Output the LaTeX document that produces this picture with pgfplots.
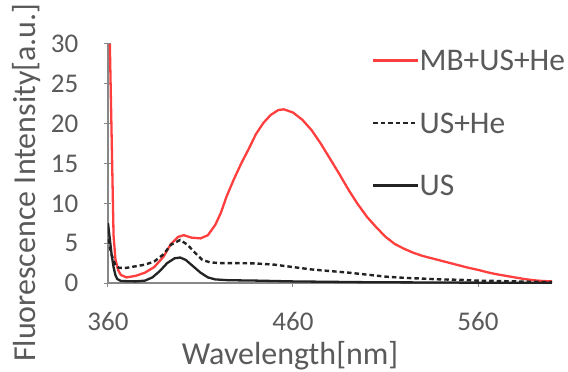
\documentclass[border=0pt]{standalone}
\usepackage{fontspec}
\setmainfont{Carlito}
\usepackage{pgfplots}
\pgfplotsset{compat=1.18}
\definecolor{txtgray}{RGB}{90,90,90}
\definecolor{axgray}{RGB}{135,135,135}
\definecolor{myred}{RGB}{255,62,62}
\definecolor{myblack}{RGB}{35,35,35}
\begin{document}
\begin{tikzpicture}
\path[use as bounding box] (-108pt,-89pt) rectangle (460pt,283pt);
\begin{axis}[
  at={(0,0)}, anchor=south west,
  scale only axis, width=444pt, height=239pt,
  xmin=360, xmax=600, ymin=0, ymax=30,
  axis lines=left, axis line style={draw=axgray, line width=1.5pt, -},
  xtick={360,460,560}, ytick={0,5,...,30},
  tick align=center, major tick length=7pt,
  tick style={draw=axgray, line width=1pt},
  /pgf/number format/assume math mode=true,
  /pgf/number format/1000 sep={},
  ticklabel style={font=\fontsize{27}{32}\selectfont, text=txtgray, inner sep=0pt},
  yticklabel style={anchor=east, xshift=-26pt},
  xticklabel style={anchor=north, yshift=-26pt},
  xlabel={Wavelength[nm]},
  ylabel={Fluorescence Intensity[a.u.]},
  label style={font=\fontsize{32}{38}\selectfont, text=txtgray, inner sep=0pt},
  xlabel style={at={(axis description cs:0.41,-0.343)}, anchor=base},
  ylabel style={at={(axis description cs:-0.183,0.42)}, anchor=center},
  legend style={draw=none, fill=none, inner sep=0pt,
    at={(rel axis cs:0.5946,0.975)}, anchor=north west,
    font=\fontsize{31.5}{38}\selectfont, text=txtgray,
    row sep=42pt,
    nodes={inner sep=0pt, text height=20.5pt, text depth=0pt},
    /tikz/every even column/.append style={column sep=5pt}},
  legend cell align=left,
  legend image code/.code={\draw[#1] (0pt,0pt) -- (45pt,0pt);},
  clip=true,
]
\addplot[myred, line width=2.3pt] coordinates {
(361,30) (362,18) (363,6) (364,3) (365.5,1.6) (367,1.0) (370,0.7) (375,0.9)
(380,1.3) (385,2.0) (390,3.3) (394,4.9) (398,5.8) (401,6.0) (405,5.7) (410,5.6)
(414,6.0) (418,7.3) (421,8.8) (424,10.8) (428,13.0) (432,15.0) (436,16.8)
(440,18.7) (444,20.1) (448,21.1) (452,21.7) (455,21.8) (460,21.4) (465,20.5)
(470,19.2) (475,17.5) (480,15.6) (485,13.7) (490,11.7) (495,9.9) (500,8.3)
(505,7.0) (510,5.8) (515,4.9) (520,4.3) (525,3.8) (530,3.4) (535,3.1)
(540,2.8) (545,2.5) (550,2.2) (555,1.9) (560,1.65) (565,1.35) (570,1.1)
(575,0.9) (580,0.7) (585,0.5) (590,0.35) (595,0.25) (600,0.2)
};
\addlegendentry{MB+US+He}
\addplot[myblack, line width=2.4pt, dash pattern=on 4.5pt off 3pt] coordinates {
(360,5.5) (362,3.5) (364,2.2) (366,1.9) (370,1.9) (375,2.1) (380,2.3) (385,2.7)
(390,3.6) (394,4.8) (399,5.4) (403,4.8) (407,3.8) (411,2.9) (415,2.6) (420,2.5)
(430,2.5) (440,2.45) (450,2.3) (460,2.0) (470,1.7) (480,1.5) (490,1.3)
(500,1.05) (510,0.8) (520,0.65) (530,0.55) (540,0.45) (550,0.4) (560,0.3)
(570,0.25) (580,0.2) (590,0.15) (600,0.1)
};
\addlegendentry{US+He}
\addplot[myblack, line width=2.3pt] coordinates {
(360,7.5) (361,5.5) (362,3.5) (363,2) (364,1.0) (365,0.5) (367,0.25) (375,0.2)
(380,0.3) (384,0.7) (388,1.5) (392,2.5) (396,3.1) (399,3.2) (402,2.9) (406,2.1)
(410,1.3) (414,0.7) (418,0.45) (425,0.35) (440,0.3) (460,0.2) (480,0.15)
(500,0.1) (550,0.05) (600,0.02)
};
\addlegendentry{US}
\end{axis}
\end{tikzpicture}
\end{document}
